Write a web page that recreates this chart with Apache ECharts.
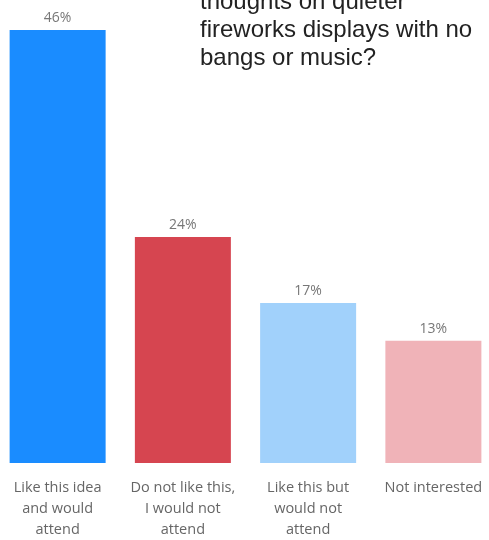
<!DOCTYPE html>
<html>
<head>
<meta charset="utf-8">
<script src="https://cdn.jsdelivr.net/npm/echarts@6/dist/echarts.min.js"></script>
<style>html,body{margin:0;padding:0;background:#fff;overflow:hidden}#c{position:relative;left:-5px;width:501px;height:540px}</style>
</head>
<body>
<div id="c"></div>
<script>
const categories = ['Like this idea\nand would\nattend', 'Do not like this,\nI would not\nattend', 'Like this but\nwould not\nattend', 'Not interested'];
const values = [46, 24, 17, 13];
const barColors = ['#1a8cff', '#d64550', '#a1d1fb', '#f0b3b8'];
const titleLines = ['thoughts on quieter', 'fireworks displays with no', 'bangs or music?'];

const chart = echarts.init(document.getElementById('c'));
chart.setOption({
  animation: false,
  grid: { left: 0, right: 0, top: 30, bottom: 77 },
  xAxis: {
    type: 'category', data: categories,
    axisLine: { show: false }, axisTick: { show: false },
    axisLabel: { interval: 0, color: '#666', fontFamily: 'Open Sans', fontSize: 14.5, lineHeight: 21, margin: 14 }
  },
  yAxis: { type: 'value', min: 0, max: 46, show: false, splitLine: { show: false } },
  series: [{
    type: 'bar', barWidth: 96,
    data: values.map((v, i) => ({ value: v, itemStyle: { color: barColors[i] } })),
    label: { show: true, position: 'top', distance: 5, color: '#777', fontFamily: 'Open Sans', fontSize: 14, formatter: '{c}%' }
  }],
  graphic: [{
    type: 'text', left: 205, top: -12,
    style: { text: titleLines.join('\n'), font: '24px "Liberation Sans", Arial, sans-serif', fill: '#222', lineHeight: 28 }
  }]
});
</script>
</body>
</html>
